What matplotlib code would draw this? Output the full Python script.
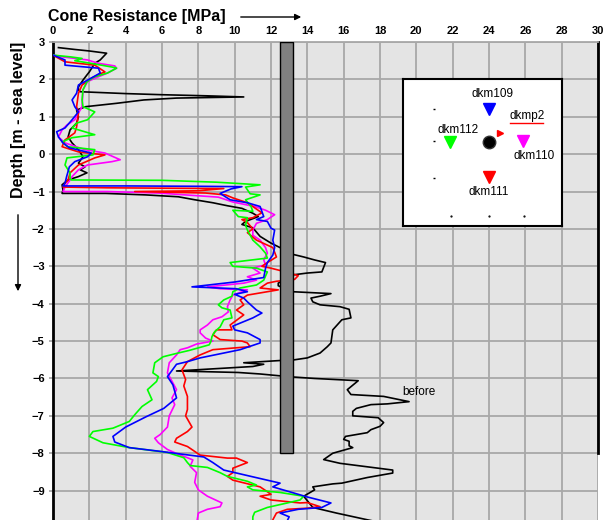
import matplotlib
matplotlib.use("Agg")
import matplotlib.pyplot as plt
import numpy as np

# ---------------- data ----------------
# (cone resistance MPa, depth m) pairs
before_pts = [(0.3,2.85),(1.2,2.8),(2.0,2.76),(2.95,2.7),(2.6,2.52),(2.3,2.43),(2.0,2.2),(1.87,2.12),(1.65,1.98),(1.4,1.8),(1.4,1.72),(1.5,1.67),(4.0,1.62),(6.0,1.59),(8.5,1.56),(10.5,1.53),(6.8,1.5),(5.0,1.45),(3.5,1.36),(1.8,1.27),(1.3,1.18),(1.4,1.0),(1.3,0.83),(0.94,0.65),(0.83,0.46),(1.05,0.3),(1.4,0.12),(1.65,-0.07),(1.4,-0.24),(1.76,-0.34),(1.5,-0.42),(1.87,-0.5),(1.4,-0.6),(0.83,-0.69),(0.5,-0.82),(0.55,-0.96),(0.5,-1.05),(2.9,-1.05),(5.1,-1.09),(6.9,-1.14),(7.8,-1.22),(8.8,-1.3),(9.6,-1.38),(10.4,-1.45),(11.0,-1.58),(11.3,-1.67),(10.6,-1.8),(10.4,-1.88),(11.0,-1.97),(11.4,-2.2),(12.0,-2.38),(12.5,-2.5),(13.2,-2.68),(13.8,-2.75),(14.4,-2.83),(15.0,-2.9),(14.8,-3.15),(14.0,-3.18),(13.2,-3.23),(12.4,-3.45),(12.4,-3.52),(13.2,-3.68),(15.3,-3.73),(14.7,-3.8),(14.2,-3.85),(14.3,-3.95),(14.7,-4.03),(15.8,-4.08),(16.3,-4.15),(16.4,-4.38),(15.9,-4.43),(15.4,-4.7),(15.3,-5.05),(15.1,-5.15),(14.7,-5.32),(14.0,-5.45),(13.3,-5.5),(12.5,-5.52),(10.5,-5.58),(11.6,-5.62),(11.0,-5.68),(6.8,-5.8),(10.2,-5.84),(11.4,-5.88),(12.5,-5.93),(13.2,-5.96),(14.4,-6.0),(16.8,-6.06),(16.2,-6.3),(16.4,-6.43),(18.2,-6.48),(19.6,-6.62),(18.4,-6.68),(17.5,-6.7),(16.7,-6.8),(16.5,-6.88),(16.5,-7.0),(17.9,-7.05),(18.2,-7.18),(18.0,-7.28),(17.5,-7.37),(17.3,-7.45),(16.1,-7.55),(16.0,-7.63),(16.3,-7.68),(16.3,-7.8),(16.5,-7.85),(15.4,-8.0),(14.9,-8.17),(15.8,-8.27),(18.7,-8.45),(18.7,-8.53),(17.3,-8.65),(15.9,-8.8),(15.4,-8.82),(14.3,-8.9),(14.4,-8.98),(13.8,-9.15),(14.3,-9.45),(15.6,-9.6),(17.3,-9.78),(18.5,-9.9)]

dkm109_pts = [(0.0,2.65),(0.66,2.52),(0.66,2.38),(2.5,2.3),(2.6,2.17),(1.9,1.98),(1.4,1.85),(1.3,1.63),(1.05,1.45),(1.2,1.27),(1.4,1.13),(1.05,0.92),(0.66,0.7),(0.2,0.6),(0.3,0.46),(0.55,0.3),(0.9,0.17),(2.1,0.03),(1.9,-0.07),(1.2,-0.2),(0.9,-0.34),(0.75,-0.6),(0.66,-0.78),(0.55,-0.85),(4.0,-0.85),(8.0,-0.86),(10.4,-0.87),(9.8,-0.93),(9.2,-1.05),(9.75,-1.22),(10.7,-1.3),(11.4,-1.4),(11.6,-1.67),(11.2,-1.75),(11.8,-1.8),(12.0,-1.98),(12.2,-2.03),(12.1,-2.3),(12.2,-2.5),(12.1,-2.7),(11.8,-2.9),(11.7,-3.05),(11.6,-3.3),(10.0,-3.42),(7.65,-3.55),(10.1,-3.6),(10.7,-3.68),(10.0,-3.75),(10.5,-3.85),(10.7,-3.95),(11.2,-4.17),(11.5,-4.25),(11.0,-4.38),(10.3,-4.52),(9.9,-4.6),(10.0,-4.7),(10.7,-4.78),(11.4,-4.96),(11.4,-5.05),(10.3,-5.23),(9.4,-5.32),(8.1,-5.45),(7.4,-5.55),(6.8,-5.62),(6.3,-5.95),(6.6,-6.17),(6.8,-6.52),(6.1,-6.8),(5.1,-7.03),(4.0,-7.3),(3.3,-7.55),(3.4,-7.7),(4.2,-7.85),(5.9,-7.95),(8.3,-8.1),(8.8,-8.25),(9.4,-8.45),(10.9,-8.62),(12.5,-8.8),(12.1,-8.9),(14.0,-9.17),(15.3,-9.33),(14.8,-9.45),(13.5,-9.5),(12.5,-9.6),(13.0,-9.7),(12.8,-9.9)]

dkm112_pts = [(0.0,2.65),(1.0,2.6),(1.6,2.56),(1.2,2.5),(2.2,2.42),(3.25,2.33),(3.5,2.3),(3.0,2.17),(2.3,2.07),(1.87,1.94),(1.65,1.72),(1.6,1.45),(1.65,1.27),(2.3,1.13),(1.9,0.92),(1.3,0.83),(1.05,0.7),(2.3,0.52),(1.05,0.44),(0.5,0.33),(0.8,0.2),(2.3,0.12),(2.2,-0.02),(0.77,-0.1),(0.66,-0.29),(0.94,-0.5),(0.94,-0.64),(1.0,-0.69),(6.0,-0.7),(9.0,-0.75),(11.4,-0.82),(10.6,-0.88),(10.85,-1.06),(11.4,-1.09),(10.6,-1.22),(10.9,-1.4),(11.0,-1.53),(9.9,-1.5),(10.2,-1.67),(10.7,-1.7),(10.6,-1.9),(10.7,-2.03),(11.0,-2.3),(11.4,-2.48),(11.7,-2.65),(11.8,-2.78),(9.75,-2.9),(9.9,-3.0),(11.2,-3.05),(11.8,-3.15),(11.6,-3.37),(11.2,-3.5),(10.3,-3.58),(9.9,-3.68),(9.85,-3.8),(9.4,-3.9),(9.1,-4.03),(9.3,-4.11),(9.75,-4.17),(9.85,-4.38),(9.4,-4.43),(9.2,-4.62),(8.9,-4.75),(8.75,-4.88),(8.7,-5.0),(8.6,-5.1),(7.5,-5.25),(6.8,-5.33),(6.06,-5.42),(5.6,-5.58),(5.5,-5.85),(5.8,-5.95),(5.7,-6.08),(5.2,-6.3),(5.45,-6.57),(4.9,-6.75),(4.5,-6.97),(4.2,-7.15),(3.3,-7.33),(2.2,-7.42),(2.0,-7.55),(2.75,-7.72),(4.2,-7.85),(6.3,-7.98),(7.2,-8.12),(7.4,-8.25),(7.55,-8.33),(8.5,-8.38),(9.2,-8.52),(9.6,-8.62),(10.7,-8.75),(11.2,-8.85),(10.7,-8.9),(11.0,-8.98),(12.5,-9.05),(13.8,-9.15),(13.6,-9.25),(12.9,-9.33),(11.8,-9.45),(11.1,-9.58),(11.0,-9.7),(11.0,-9.9)]

dkm111_pts = [(0.1,2.62),(0.66,2.47),(2.3,2.38),(2.86,2.2),(2.7,2.17),(2.15,2.04),(1.6,1.85),(1.4,1.63),(1.3,1.27),(1.4,1.1),(1.3,0.73),(1.2,0.57),(0.66,0.38),(0.5,0.2),(1.4,0.06),(2.86,-0.02),(2.3,-0.1),(1.4,-0.29),(0.94,-0.5),(0.83,-0.69),(0.66,-0.78),(0.55,-0.88),(3.0,-0.9),(6.0,-0.91),(9.4,-0.92),(8.0,-0.98),(4.5,-1.0),(8.4,-1.04),(9.5,-1.09),(9.9,-1.17),(10.7,-1.3),(11.5,-1.57),(11.0,-1.7),(10.4,-1.75),(10.7,-1.83),(11.0,-2.0),(10.7,-2.1),(11.2,-2.3),(12.1,-2.5),(12.3,-2.75),(11.8,-2.9),(11.5,-3.0),(12.0,-3.05),(12.8,-3.15),(13.5,-3.25),(13.3,-3.35),(12.3,-3.4),(11.8,-3.45),(11.4,-3.58),(12.4,-3.63),(10.7,-3.77),(10.3,-3.9),(10.5,-4.03),(10.1,-4.17),(10.5,-4.3),(10.0,-4.48),(9.75,-4.57),(9.85,-4.7),(9.0,-4.7),(8.8,-4.83),(9.2,-4.96),(10.4,-5.0),(10.7,-5.05),(10.85,-5.15),(8.8,-5.23),(8.1,-5.37),(7.4,-5.55),(7.1,-5.77),(7.3,-6.03),(7.2,-6.2),(7.4,-6.48),(7.4,-6.83),(7.3,-7.0),(7.65,-7.3),(7.4,-7.42),(6.8,-7.6),(6.7,-7.7),(7.4,-7.82),(8.1,-8.05),(9.6,-8.13),(10.1,-8.13),(10.7,-8.25),(9.9,-8.4),(9.9,-8.52),(9.6,-8.62),(9.9,-8.72),(11.4,-8.9),(11.8,-9.03),(12.0,-9.1),(11.4,-9.15),(12.0,-9.25),(13.6,-9.33),(14.0,-9.32),(14.7,-9.43),(14.0,-9.47),(12.9,-9.5),(12.3,-9.6),(12.1,-9.78),(12.2,-9.9)]

dkm110_pts = [(0.0,2.65),(0.55,2.6),(1.9,2.52),(2.5,2.43),(3.4,2.36),(3.5,2.3),(3.0,2.17),(2.5,2.07),(1.9,1.94),(1.65,1.72),(1.6,1.27),(1.4,1.1),(1.2,0.92),(0.77,0.78),(0.5,0.65),(0.3,0.46),(0.66,0.3),(1.76,0.12),(2.86,0.03),(3.7,-0.15),(3.25,-0.2),(1.9,-0.29),(1.4,-0.42),(1.05,-0.6),(0.94,-0.69),(0.66,-0.88),(0.55,-1.0),(3.0,-1.0),(5.8,-1.04),(9.1,-1.15),(9.9,-1.28),(11.1,-1.4),(11.7,-1.5),(12.2,-1.62),(11.8,-1.75),(11.2,-1.85),(11.0,-2.03),(11.0,-2.17),(11.4,-2.3),(11.7,-2.5),(11.8,-2.65),(11.6,-2.83),(11.7,-2.96),(11.0,-3.05),(11.4,-3.18),(10.7,-3.28),(11.2,-3.37),(10.5,-3.45),(8.5,-3.55),(9.2,-3.6),(10.7,-3.63),(9.9,-3.77),(9.75,-3.9),(9.6,-4.08),(9.65,-4.22),(9.3,-4.35),(8.8,-4.43),(8.5,-4.57),(8.1,-4.7),(8.1,-4.78),(8.4,-4.92),(8.8,-5.0),(7.9,-5.08),(7.4,-5.18),(7.0,-5.23),(6.8,-5.37),(6.4,-5.58),(6.3,-5.85),(6.6,-6.12),(6.8,-6.3),(6.55,-6.52),(6.7,-6.7),(6.4,-7.0),(6.3,-7.3),(5.9,-7.5),(5.6,-7.6),(5.8,-7.72),(6.3,-7.9),(7.0,-8.05),(7.4,-8.12),(7.7,-8.18),(7.55,-8.35),(7.9,-8.52),(7.8,-8.78),(8.0,-8.98),(8.5,-9.15),(9.3,-9.33),(9.2,-9.43),(8.5,-9.5),(8.0,-9.6),(7.9,-9.9)]

series_names = ["before", "dkm110", "dkm111", "dkm112", "dkm109"]
series_colors = ["#000000", "#ff00ff", "#ff0000", "#00ff00", "#0000ff"]
series_data = [before_pts, dkm110_pts, dkm111_pts, dkm112_pts, dkm109_pts]

x_ticks = list(range(0, 31, 2))
y_ticks = list(range(-10, 4))

# column (bar) in the profile
bar_center = 12.87
bar_width = 0.73
bar_top = 3.0
bar_bottom = -8.0

# inset location map (box units, 0..159 wide, 0..147 high)
inset_names = ["dkm109", "dkm112", "dkm110", "dkm111"]
inset_x = [86.3, 47.3, 120.3, 86.3]
inset_y = [30.3, 62.7, 61.7, 98.3]
inset_colors = ["#0000ff", "#00ff00", "#ff00ff", "#ff0000"]
inset_label_x = [89.7, 54.7, 131.3, 85.3]
inset_label_y = [15.0, 51.0, 77.0, 112.7]
center_xy = (85.7, 62.7)
dkmp2_xy = (97.0, 54.3)
dkmp2_label_xy = (123.7, 37.0)
tick_dash_x = [31, 31, 31]
tick_dash_y = [30, 61.7, 98.7]
tick_dot_x = [47.7, 85.7, 120.7]
tick_dot_y = [137, 137, 137]

# ---------------- figure ----------------
plt.rcParams['font.family'] = ['Liberation Sans', 'DejaVu Sans']
W, H = 605, 520
fig = plt.figure(figsize=(W / 100, H / 100), dpi=100)
ax = fig.add_axes([53 / W, 1 - 528 / H, 545 / W, (528 - 42) / H])
ax.set_xlim(0, 30)
ax.set_ylim(-10, 3)
ax.set_facecolor('#e4e4e4')
ax.set_axisbelow(True)
ax.grid(True, color='#a8a8a8', lw=1.3)
ax.xaxis.tick_top()
ax.set_xticks(x_ticks)
ax.set_yticks(y_ticks)
ax.tick_params(axis='x', length=0, pad=4, labelsize=8)
ax.tick_params(axis='y', length=3, color='#a8a8a8', width=1.3, pad=3, labelsize=8)
for lab in ax.get_xticklabels() + ax.get_yticklabels():
    lab.set_fontweight('bold')
for s in ['bottom', 'right']:
    ax.spines[s].set_visible(False)
ax.spines['top'].set_color('#a8a8a8')
ax.spines['top'].set_linewidth(1.3)
ax.spines['left'].set_color('black')
ax.spines['left'].set_linewidth(2)
ax.axvline(30, ymin=(bar_bottom + 10) / 13, ymax=1, color='black', lw=2, clip_on=False)

for name, col, pts in zip(series_names, series_colors, series_data):
    xs = [p[0] for p in pts]
    ys = [p[1] for p in pts]
    ax.plot(xs, ys, color=col, lw=1.2, zorder=3)

ax.bar(bar_center, bar_top - bar_bottom, bottom=bar_bottom, width=bar_width,
       color='#808080', edgecolor='black', lw=1.0, zorder=6)

ax.text(19.2, -6.36, 'before', fontsize=8.5, va='center', ha='left', zorder=7)

# axis titles with arrows
fig.text(48 / W, 1 - 17 / H, 'Cone Resistance [MPa]', fontsize=11.5, fontweight='bold',
         va='center', ha='left')
fig.add_artist(matplotlib.patches.FancyArrowPatch(
    (238 / W, 1 - 17 / H), (304 / W, 1 - 17 / H), transform=fig.transFigure,
    arrowstyle='-|>', mutation_scale=9, color='black', lw=1))
fig.text(19 / W, 1 - 120 / H, 'Depth [m - sea level]', fontsize=11.5, fontweight='bold',
         va='center', ha='center', rotation=90)
fig.add_artist(matplotlib.patches.FancyArrowPatch(
    (18 / W, 1 - 212 / H), (18 / W, 1 - 294 / H), transform=fig.transFigure,
    arrowstyle='-|>', mutation_scale=9, color='black', lw=1))

# inset map
ins = fig.add_axes([403 / W, 1 - 226 / H, 159 / W, 147 / H])
ins.set_xlim(0, 159)
ins.set_ylim(147, 0)
ins.set_facecolor('white')
ins.set_xticks([])
ins.set_yticks([])
for s in ins.spines.values():
    s.set_linewidth(1.5)
    s.set_color('black')
for nm, x, y, c, lx, ly in zip(inset_names, inset_x, inset_y, inset_colors, inset_label_x, inset_label_y):
    ins.plot([x], [y], marker='v', color=c, markersize=8, linestyle='none')
    ins.text(lx, ly, nm, fontsize=8.5, ha='center', va='center')
ins.plot([center_xy[0]], [center_xy[1]], marker='o', color='black', markersize=9,
         markeredgecolor='#333333', linestyle='none')
ins.plot([dkmp2_xy[0]], [dkmp2_xy[1]], marker='>', color='red', markersize=4, linestyle='none')
ins.text(dkmp2_label_xy[0], dkmp2_label_xy[1], 'dkmp2', fontsize=8.5, ha='center', va='center')
ins.plot([dkmp2_label_xy[0] - 17, dkmp2_label_xy[0] + 16], [dkmp2_label_xy[1] + 6.5] * 2,
         color='red', lw=1)
ins.plot(tick_dash_x, tick_dash_y, marker='_', color='black', markersize=2, linestyle='none')
ins.plot(tick_dot_x, tick_dot_y, marker='.', color='black', markersize=1.2, linestyle='none')

fig.savefig('out.png', dpi=100)
